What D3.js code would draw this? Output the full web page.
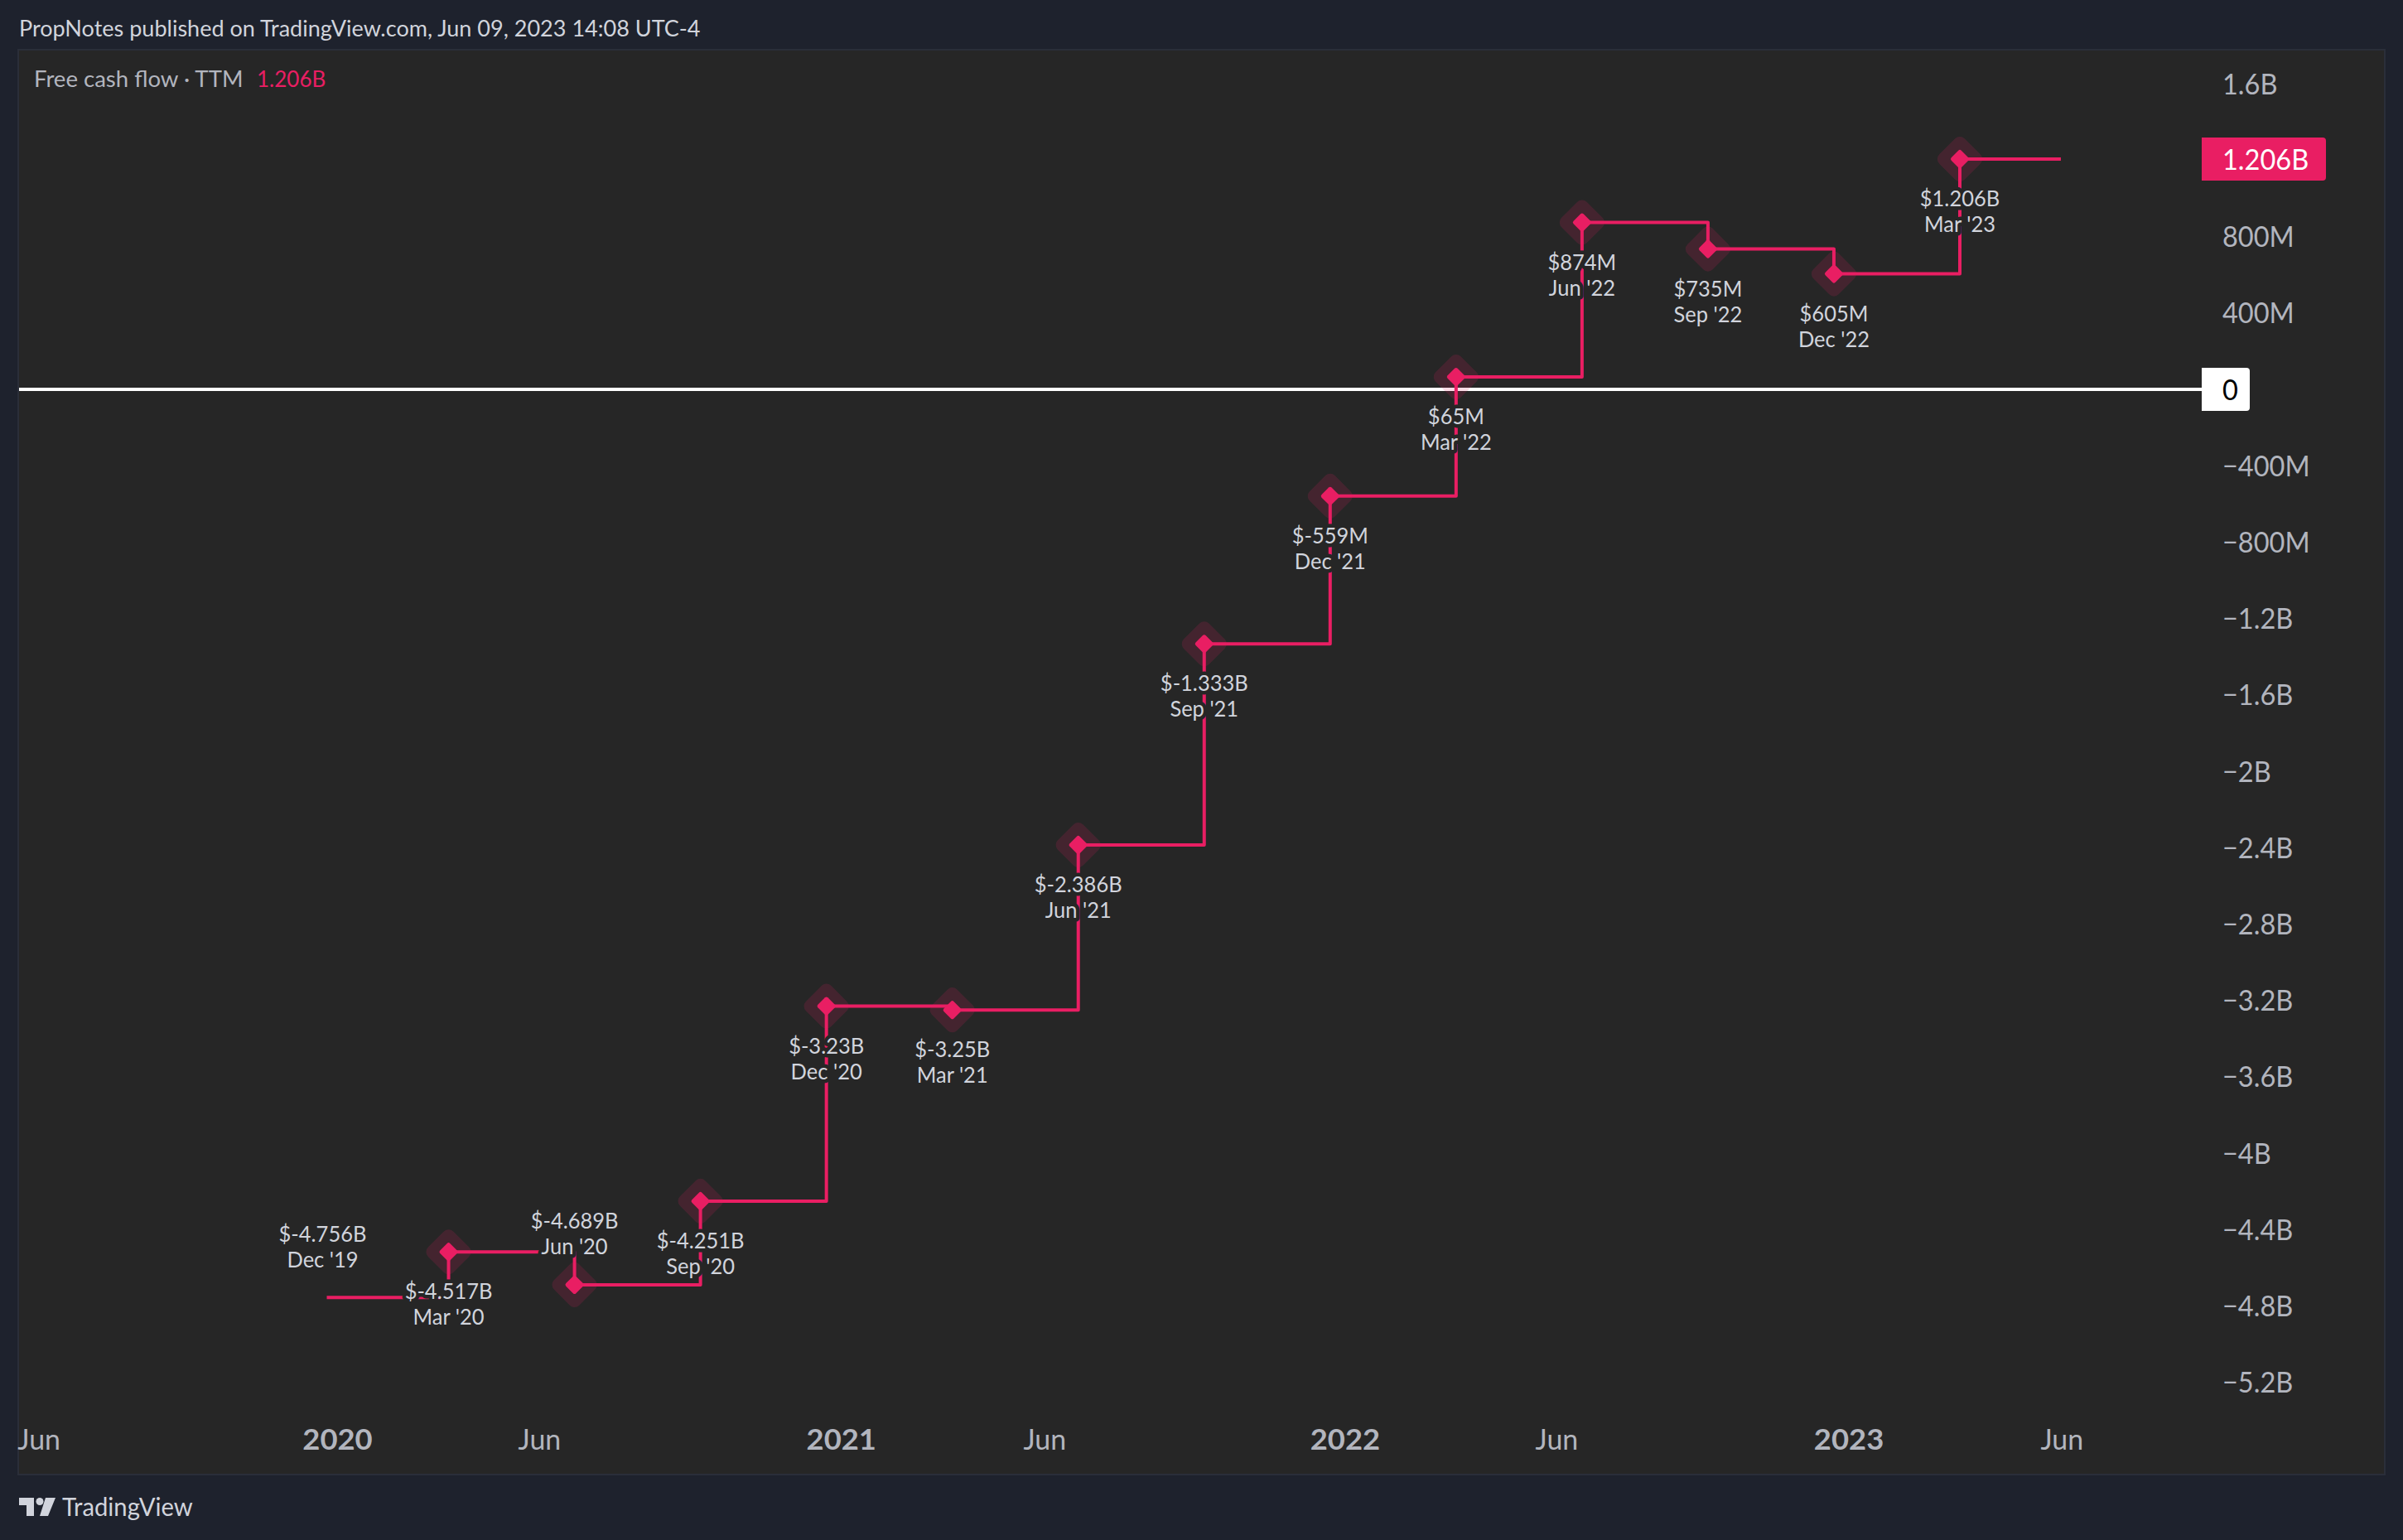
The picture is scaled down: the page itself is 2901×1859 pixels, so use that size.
<!DOCTYPE html>
<html><head><meta charset="utf-8">
<script src="https://cdn.jsdelivr.net/npm/d3@7/dist/d3.min.js"></script>
<style>html,body{margin:0;padding:0;background:#1e222d}svg{display:block}text{font-family:Lato,"Open Sans",sans-serif}</style>
</head><body><svg id="c" width="2901" height="1859"></svg>
<script>
const quarterEnds = ["2019-06-30","2019-09-30","2019-12-31","2020-03-31","2020-06-30","2020-09-30","2020-12-31","2021-03-31","2021-06-30","2021-09-30","2021-12-31","2022-03-31","2022-06-30","2022-09-30","2022-12-31","2023-03-31","2023-06-30"];
const periods = ["Dec '19","Mar '20","Jun '20","Sep '20","Dec '20","Mar '21","Jun '21","Sep '21","Dec '21","Mar '22","Jun '22","Sep '22","Dec '22","Mar '23"];
const periodDates = ["2019-12-31","2020-03-31","2020-06-30","2020-09-30","2020-12-31","2021-03-31","2021-06-30","2021-09-30","2021-12-31","2022-03-31","2022-06-30","2022-09-30","2022-12-31","2023-03-31"];
const fcfValues = [-4.756,-4.517,-4.689,-4.251,-3.23,-3.25,-2.386,-1.333,-0.559,0.065,0.874,0.735,0.605,1.206];
const fcfLabels = ["$-4.756B","$-4.517B","$-4.689B","$-4.251B","$-3.23B","$-3.25B","$-2.386B","$-1.333B","$-559M","$65M","$874M","$735M","$605M","$1.206B"];
const labelsAbove = ["Dec '19","Jun '20"];
const firstBar = "2020-01-03", lastBar = "2023-06-12";
const yTicks = [1.6,0.8,0.4,-0.4,-0.8,-1.2,-1.6,-2,-2.4,-2.8,-3.2,-3.6,-4,-4.4,-4.8,-5.2];
const yTickLabels = ["1.6B","800M","400M","−400M","−800M","−1.2B","−1.6B","−2B","−2.4B","−2.8B","−3.2B","−3.6B","−4B","−4.4B","−4.8B","−5.2B"];
const xTicks = ["2019-05-30","2020-01-03","2020-05-28","2021-01-03","2021-05-29","2022-01-03","2022-06-04","2023-01-03","2023-06-05"];
const xTickLabels = ["Jun","2020","Jun","2021","Jun","2022","Jun","2023","Jun"];
const xTickBold = ["2020","2021","2022","2023"];

const parse = d3.utcParse("%Y-%m-%d");
const PINK="#e91e63", BG="#262626", PAGE="#1e222d", AXIS="#b2b5be", LABEL="#d1d4dc";
const svg = d3.select("#c");
svg.append("rect").attr("x",22).attr("y",60).attr("width",2857).attr("height",1720).attr("fill",BG).attr("stroke","#2a2e39").attr("stroke-width",2);

const q = d3.scaleLinear().domain([2,15]).range([389.5,2366]);
const x = d3.scaleUtc().domain(quarterEnds.map(parse)).range(quarterEnds.map((d,i)=>q(i)));
const y = d3.scaleLinear().domain([0,1.206]).range([470,192]);
const T = (g,px,py,s,o={})=>g.append("text").attr("transform",`translate(${px},${py}) scale(${o.sx||0.98},1)`)
  .attr("text-anchor",o.anchor||"start").attr("font-size",o.size||26).attr("font-weight",o.weight||400).attr("fill",o.fill||LABEL).text(s);

// zero line
svg.append("line").attr("x1",23).attr("x2",2658).attr("y1",y(0)).attr("y2",y(0)).attr("stroke","#fff").attr("stroke-width",4);

// series
const pts = periodDates.map((d,i)=>({t:parse(d),v:fcfValues[i],p:periods[i],l:fcfLabels[i]}));
const linePts = [{t:parse(firstBar),v:fcfValues[0]},...pts.slice(1),{t:parse(lastBar),v:fcfValues[fcfValues.length-1]}];
svg.append("path").attr("d",d3.line().x(d=>x(d.t)).y(d=>y(d.v)).curve(d3.curveStepAfter)(linePts))
  .attr("fill","none").attr("stroke",PINK).attr("stroke-width",4).attr("stroke-linejoin","round");

// markers
const mk = svg.append("g").selectAll("g").data(pts.slice(1)).join("g").attr("transform",d=>`translate(${x(d.t)},${y(d.v)}) rotate(45)`);
mk.append("rect").attr("x",-21.5).attr("y",-21.5).attr("width",43).attr("height",43).attr("rx",8).attr("fill",PINK).attr("opacity",0.16);
mk.append("rect").attr("x",-8.5).attr("y",-8.5).attr("width",17).attr("height",17).attr("rx",2.5).attr("fill",PINK);

// point labels
const lg = svg.append("g");
pts.forEach(d=>{
  const above = labelsAbove.includes(d.p);
  const base = y(d.v) + (above ? -67.5 : 57);
  [[d.l,0],[d.p,31]].forEach(([s,dy])=>{
    T(lg,x(d.t),base+dy,s,{anchor:"middle",size:26,sx:0.98}).attr("stroke",BG).attr("stroke-width",9).attr("paint-order","stroke").attr("stroke-linejoin","round");
  });
});

// y axis
yTicks.forEach((v,i)=>T(svg,2683,y(v)+12.5,yTickLabels[i],{size:35,fill:AXIS,sx:0.93}));
const tag=(y0,w,fill)=>svg.append("path").attr("d",`M2658,${y0-26}H${2658+w-4}a4,4 0 0 1 4,4V${y0+22}a4,4 0 0 1 -4,4H2658Z`).attr("fill",fill);
tag(y(0),58,"#fff");
T(svg,2683,y(0)+12.5,"0",{size:35,fill:"#000",sx:0.93});
tag(y(1.206),150,PINK);
T(svg,2683,y(1.206)+12.5,"1.206B",{size:35,fill:"#fff",sx:0.93});

// x axis
xTicks.forEach((d,i)=>{
  const s=xTickLabels[i], b=xTickBold.includes(s);
  T(svg,x(parse(d))+13,1750,s,{anchor:"middle",size:35,fill:AXIS,weight:b?700:400,sx:b?1.04:0.97});
});

// header / legend
T(svg,23,44,"PropNotes published on TradingView.com, Jun 09, 2023 14:08 UTC-4",{size:26,fill:"#d1d4dc",sx:1.04});
T(svg,41,105,"Free cash flow · TTM",{size:26,fill:AXIS,sx:1.06});
T(svg,310,105,"1.206B",{size:26,fill:PINK,sx:1.0});

// footer logo
const logo = svg.append("g").attr("transform","translate(23,1808)").attr("fill","#d1d4dc");
logo.append("path").attr("d","M0 0H18V22H9V9H0ZM32 0H44L35 22H25Z");
logo.append("circle").attr("cx",25).attr("cy",4.5).attr("r",4.5);
T(svg,75,1830,"TradingView",{size:30,fill:"#d1d4dc",sx:0.975});
</script></body></html>
